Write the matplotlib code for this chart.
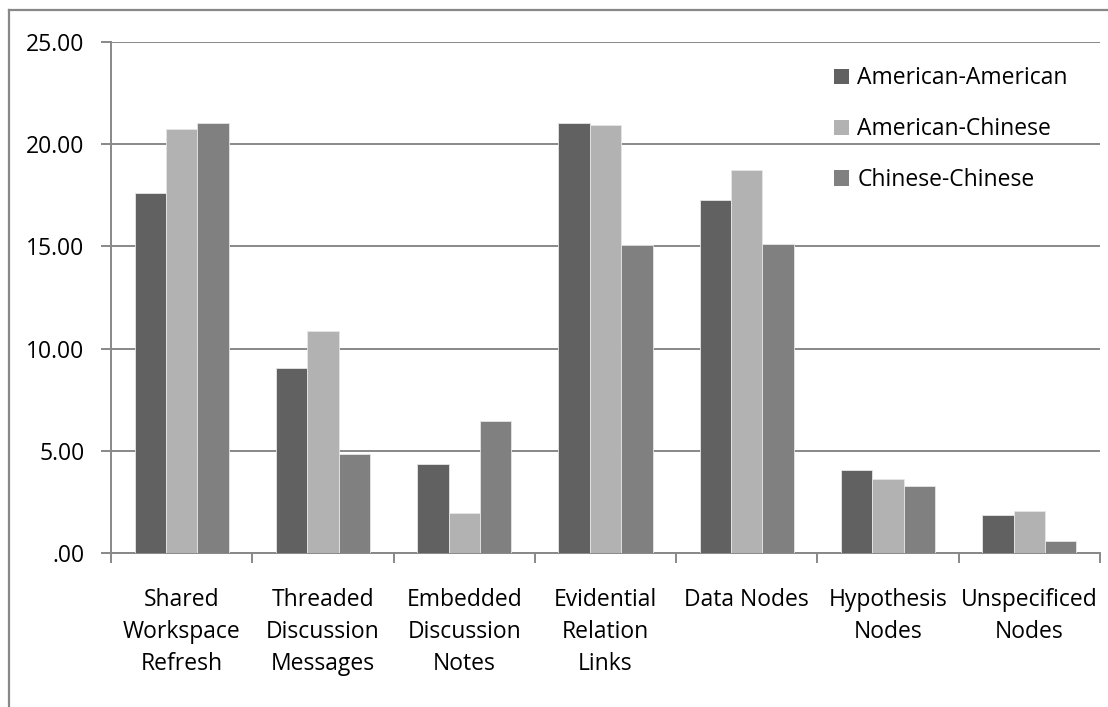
import matplotlib
matplotlib.use("Agg")
import matplotlib.pyplot as plt
import numpy as np
from matplotlib.lines import Line2D

categories = ["Shared\nWorkspace\nRefresh", "Threaded\nDiscussion\nMessages",
              "Embedded\nDiscussion\nNotes", "Evidential\nRelation\nLinks",
              "Data Nodes", "Hypothesis\nNodes", "Unspecificed\nNodes"]
series_names = ["American-American", "American-Chinese", "Chinese-Chinese"]
american_american = [17.6, 9.05, 4.35, 21.05, 17.25, 4.05, 1.85]
american_chinese = [20.75, 10.85, 1.95, 20.95, 18.75, 3.6, 2.05]
chinese_chinese = [21.05, 4.85, 6.45, 15.05, 15.1, 3.3, 0.6]
yticks = [0, 5, 10, 15, 20, 25]
ytick_labels = [".00", "5.00", "10.00", "15.00", "20.00", "25.00"]

colors = ["#616161", "#b2b2b2", "#808080"]
plt.rcParams['font.family'] = ['Open Sans', 'DejaVu Sans']
FS = 16.5

W, H = 1108, 707
fig = plt.figure(figsize=(W / 100, H / 100), dpi=100)
ax = fig.add_axes([111 / W, (H - 553) / H, (1100 - 111) / W, (553 - 42) / H])

x = np.arange(len(categories))
bw = 0.222
for i, (vals, name) in enumerate(zip([american_american, american_chinese, chinese_chinese], series_names)):
    ax.bar(x + (i - 1) * bw, vals, width=bw, color=colors[i], label=name,
           edgecolor="#e6e6e6", linewidth=0.6, zorder=3)

ax.set_xlim(-0.5, len(categories) - 0.5)
ax.set_ylim(0, 25)
ax.set_yticks(yticks)
ax.set_yticklabels(ytick_labels, fontsize=FS)
ax.yaxis.grid(True, color="#888888", linewidth=1.4, zorder=0)
ax.set_axisbelow(True)

# x ticks at category boundaries, labels at centers
ax.set_xticks(np.arange(len(categories) + 1) - 0.5)
ax.set_xticklabels([])
ax.set_xticks(x, minor=True)
ax.set_xticklabels(categories, minor=True, fontsize=FS, linespacing=1.44, va="top")
ax.tick_params(axis="x", which="major", length=7, color="#888888", width=1.4, direction="out")
ax.tick_params(axis="x", which="minor", length=0, pad=25)
ax.tick_params(axis="y", length=7, color="#888888", width=1.4, direction="out", pad=12)

for s in ["top", "right"]:
    ax.spines[s].set_visible(False)
for s in ["left", "bottom"]:
    ax.spines[s].set_color("#888888")
    ax.spines[s].set_linewidth(1.4)

leg = ax.legend(loc="upper left", bbox_to_anchor=(823 / W, 1 - 55 / H), bbox_transform=fig.transFigure,
                frameon=False, fontsize=FS, handlelength=0.65, handleheight=0.65,
                handletextpad=0.35, labelspacing=1.17, borderpad=0)
for h in leg.legend_handles:
    h.set_edgecolor("none")

# outer chart border (top and left visible)
fig.add_artist(Line2D([9 / W, 9 / W], [0, 1 - 10 / H], transform=fig.transFigure, color="#888888", linewidth=1.6))
fig.add_artist(Line2D([9 / W, 1], [1 - 10 / H, 1 - 10 / H], transform=fig.transFigure, color="#888888", linewidth=1.6))

fig.savefig("out.png", dpi=100, facecolor="white")
